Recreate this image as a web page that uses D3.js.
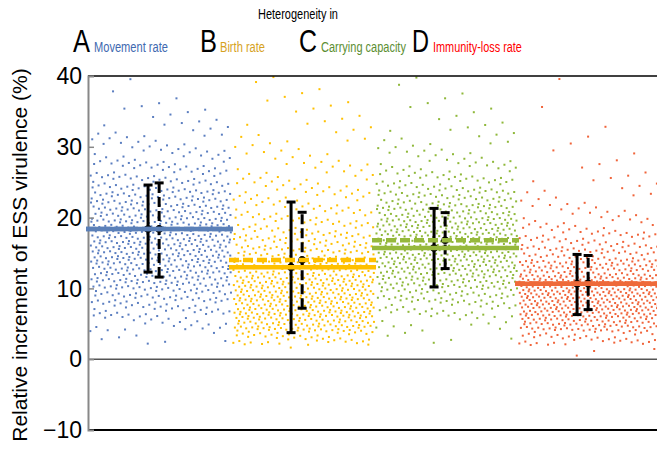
<!DOCTYPE html>
<html>
<head>
<meta charset="utf-8">
<script src="https://cdn.jsdelivr.net/npm/d3@7"></script>
<style>
  body { margin: 0; background: #fff; }
  svg { display: block; }
</style>
</head>
<body>
<div id="chart"></div>
<script>
// Panels (heterogeneity in ...)
const panels = ["A", "B", "C", "D"];
const panelNames = ["Movement rate", "Birth rate", "Carrying capacity", "Immunity-loss rate"];

// Mean lines: solid and dashed series
const solidMean = [18.4, 13.0, 15.7, 10.65];
const dashedMean = [18.4, 14.0, 16.8, 10.7];

// Error bars [low, high]
const solidBar = [[12.3, 24.6], [3.75, 22.2], [10.2, 21.3], [6.3, 14.8]];
const dashedBar = [[11.6, 24.9], [7.2, 20.75], [12.8, 20.7], [7.0, 14.65]];

// Scatter: number of points per 2-unit bin, bins 0-2, 2-4, ... 38-40
const binEdges = d3.range(0, 42, 2);
const countsA = [0, 8, 20, 35, 50, 65, 75, 80, 80, 75, 65, 55, 40, 28, 20, 14, 9, 6, 3, 1];
const countsB = [1, 45, 85, 95, 95, 90, 75, 60, 45, 35, 28, 22, 18, 14, 10, 8, 6, 5, 4, 3];
const countsC = [0, 5, 12, 30, 50, 70, 85, 90, 90, 80, 65, 50, 35, 22, 14, 9, 6, 4, 3, 2];
const countsD = [3, 40, 85, 110, 115, 105, 80, 55, 35, 22, 14, 9, 6, 4, 2, 2, 1, 1, 0, 1];
const binCounts = [countsA, countsB, countsC, countsD];

const yTicks = [-10, 0, 10, 20, 30, 40];

const pointColor = ["#5b7ec0", "#ffc000", "#8fb83a", "#f0643a"];
const lineColor = ["#5b80b8", "#ffc000", "#96b83c", "#ee6a3a"];
const labelColor = ["#4169b0", "#d6a21e", "#5b8e32", "#ff0000"];

const width = 657, height = 449;
const svg = d3.select("#chart").append("svg")
    .attr("width", width)
    .attr("height", height);

const x = d3.scaleBand().domain(panels).range([88, 660]);
const sub = d3.scaleBand().domain(["solid", "dashed"]).range([0.42, 0.575].map(f => f * x.bandwidth()))
    .paddingInner(0).paddingOuter(0);
const y = d3.scaleLinear().domain([-10, 40]).range([430, 76]);

const sans = "'Liberation Sans', Arial, sans-serif";

// Header (condensed lettering: squeeze each text horizontally to the reference width)
const header = (tx, ty, size, len, txt, fill) => {
    const t = svg.append("text")
        .attr("font-family", sans)
        .attr("font-size", size)
        .attr("fill", fill || "#000")
        .text(txt);
    const w = t.node().getComputedTextLength();
    t.attr("transform", `translate(${tx},${ty}) scale(${len / w},1)`);
};

header(258, 19, 14, 80, "Heterogeneity in");

const letterX = [73, 200, 299, 412];
const letterW = [17, 17, 18, 17];
const nameX = [94, 220, 321, 433];
const nameW = [74, 45, 85, 89];
panels.forEach((p, i) => {
    header(letterX[i], 52, 32, letterW[i], p);
    header(nameX[i], 52, 15, nameW[i], panelNames[i], labelColor[i]);
});

// Scatter points: quasi-uniform layout, y warped through each panel's binned distribution
const g1 = 1.32471795724474602596;
const a1 = 1 / g1, a2 = 1 / (g1 * g1);
panels.forEach((p, pi) => {
    const counts = binCounts[pi];
    const total = d3.sum(counts);
    const cum = [0];
    counts.forEach(c => cum.push(cum[cum.length - 1] + c / total));
    const quantile = d3.scaleLinear().domain(cum).range(binEdges).clamp(true);
    const pts = d3.range(total).map(j => ({
        u: (0.5 + a1 * (j + 1)) % 1,
        val: quantile((0.5 + a2 * (j + 1)) % 1)
    }));
    svg.append("g")
        .selectAll("rect")
        .data(pts)
        .enter()
        .append("rect")
        .attr("x", d => x(p) + 1 + d.u * (x.bandwidth() - 2))
        .attr("y", d => y(d.val) - 1)
        .attr("width", 2)
        .attr("height", 2)
        .attr("fill", pointColor[pi]);
});

// Frame and axis
svg.append("line")
    .attr("x1", 88).attr("x2", width).attr("y1", y(40)).attr("y2", y(40))
    .attr("stroke", "#000").attr("stroke-width", 1.5);
svg.append("line")
    .attr("x1", 88).attr("x2", width).attr("y1", y(-10)).attr("y2", y(-10))
    .attr("stroke", "#000").attr("stroke-width", 2);
svg.append("line")
    .attr("x1", 88).attr("x2", width).attr("y1", y(0)).attr("y2", y(0))
    .attr("stroke", "#555").attr("stroke-width", 1.5);

const yAxis = svg.append("g")
    .attr("transform", "translate(88,0)")
    .call(d3.axisRight(y).tickValues(yTicks).tickSize(6).tickFormat(""));
yAxis.select(".domain").attr("stroke", "#888").attr("stroke-width", 2);
yAxis.selectAll(".tick line").attr("stroke", "#888").attr("stroke-width", 1.5);
yAxis.selectAll(".tick").filter(d => d === -10 || d === 40).select("line").remove();

svg.append("g")
    .selectAll("text")
    .data(yTicks)
    .enter()
    .append("text")
    .attr("x", 82)
    .attr("y", d => y(d))
    .attr("dy", "0.36em")
    .attr("text-anchor", "end")
    .attr("font-family", sans)
    .attr("font-size", 23)
    .text(d => d < 0 ? "\u2212" + Math.abs(d) : d);

svg.append("text")
    .attr("transform", `translate(27,${(62 + 448) / 2}) rotate(-90)`)
    .attr("text-anchor", "middle")
    .attr("font-family", sans)
    .attr("font-size", 21)
    .text("Relative increment of ESS virulence (%)");

// Error bars with mean markers
const drawBar = (pi, kind, bar, mean) => {
    const cx = x(panels[pi]) + sub(kind);
    const g = svg.append("g").attr("stroke", "#000").attr("stroke-width", 3);
    g.append("line")
        .attr("x1", cx).attr("x2", cx)
        .attr("y1", y(bar[0])).attr("y2", y(bar[1]))
        .attr("stroke-dasharray", kind === "dashed" ? "10,4" : null);
    [bar[0], bar[1]].forEach(v => {
        g.append("line")
            .attr("x1", cx - 4.5).attr("x2", cx + 4.5)
            .attr("y1", y(v)).attr("y2", y(v));
    });
    svg.append("circle")
        .attr("cx", cx).attr("cy", y(mean)).attr("r", 3.8)
        .attr("fill", "#000");
};
panels.forEach((p, i) => {
    drawBar(i, "solid", solidBar[i], solidMean[i]);
    drawBar(i, "dashed", dashedBar[i], dashedMean[i]);
});

// Mean lines on top
panels.forEach((p, i) => {
    const x0 = x(p) - 2, x1 = Math.min(x(p) + x.bandwidth() + 2, width);
    svg.append("line")
        .attr("x1", x0).attr("x2", x1)
        .attr("y1", y(dashedMean[i])).attr("y2", y(dashedMean[i]))
        .attr("stroke", lineColor[i]).attr("stroke-width", 4.5)
        .attr("stroke-dasharray", "10,4");
    svg.append("line")
        .attr("x1", x0).attr("x2", x1)
        .attr("y1", y(solidMean[i])).attr("y2", y(solidMean[i]))
        .attr("stroke", lineColor[i]).attr("stroke-width", 4.5);
});
</script>
</body>
</html>
